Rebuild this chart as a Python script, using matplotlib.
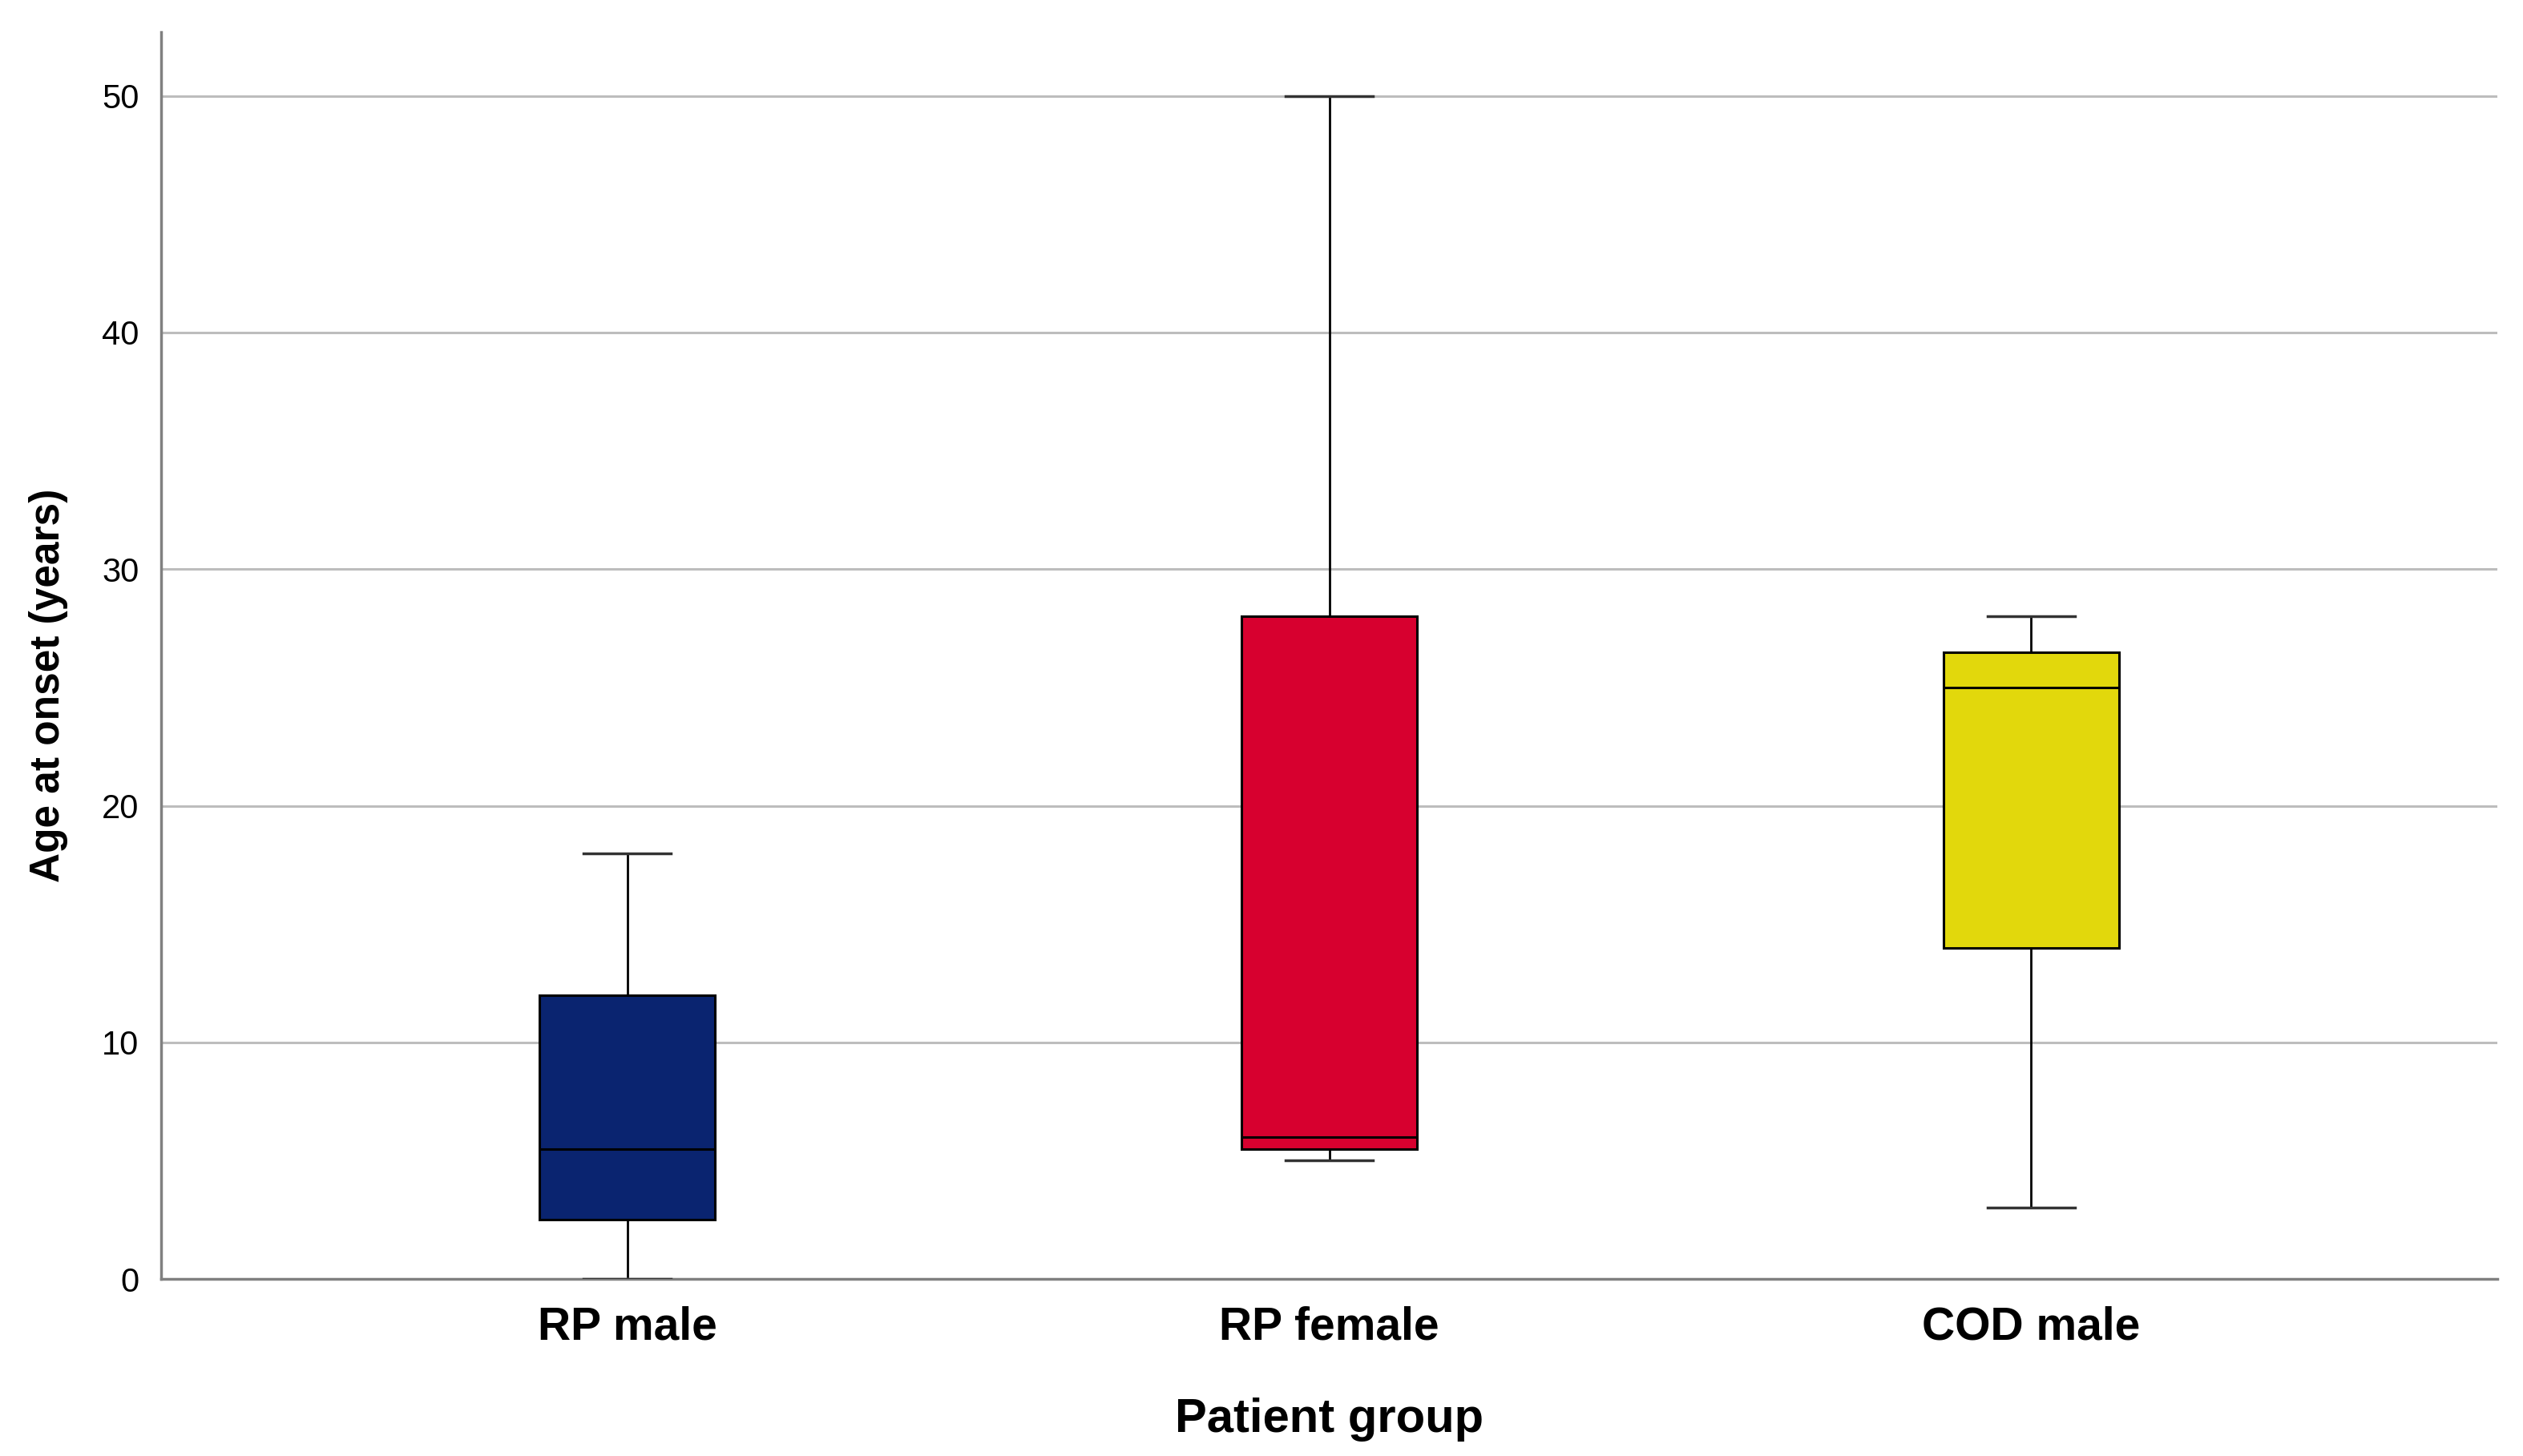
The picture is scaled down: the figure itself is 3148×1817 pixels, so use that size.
import matplotlib
matplotlib.use('Agg')
import matplotlib.pyplot as plt

groups = ['RP male', 'RP female', 'COD male']
whislo = [0, 5, 3]
q1 = [2.5, 5.5, 14]
med = [5.5, 6, 25]
q3 = [12, 28, 26.5]
whishi = [18, 50, 28]
colors = ['#0a2470', '#d7002f', '#e2d80c']
yticks = [0, 10, 20, 30, 40, 50]

fig = plt.figure(figsize=(31.48, 18.17), dpi=100)
ax = fig.add_axes([0.0639, 0.1216, 0.9259, 0.8564])

stats = []
for i, g in enumerate(groups):
    stats.append({'label': g, 'whislo': whislo[i], 'q1': q1[i], 'med': med[i],
                  'q3': q3[i], 'whishi': whishi[i], 'fliers': []})

bp = ax.bxp(stats, positions=[1, 2, 3], widths=0.25, patch_artist=True,
            showfliers=False, capwidths=0.125,
            boxprops=dict(edgecolor='black', linewidth=2.2),
            medianprops=dict(color='black', linewidth=2.2),
            whiskerprops=dict(color='black', linewidth=2),
            capprops=dict(color='#333333', linewidth=2.5, zorder=3))
for patch, c in zip(bp['boxes'], colors):
    patch.set_facecolor(c)

ax.set_xlim(0.336, 3.664)
ax.set_ylim(0, 52.7)
ax.set_yticks(yticks)
ax.yaxis.grid(True, color='#bdbdbd', linewidth=2.2)
ax.set_axisbelow(True)

for s in ['top', 'right']:
    ax.spines[s].set_visible(False)
for s in ['left', 'bottom']:
    ax.spines[s].set_color('#808080')
    ax.spines[s].set_linewidth(2.5)

ax.tick_params(axis='both', length=0)
ax.tick_params(axis='y', pad=20)
ax.tick_params(axis='x', pad=24)
for lab in ax.get_yticklabels():
    lab.set_family(['Liberation Sans', 'DejaVu Sans'])
    lab.set_fontsize(30)
for lab in ax.get_xticklabels():
    lab.set_family(['Liberation Sans', 'DejaVu Sans'])
    lab.set_fontsize(41)
    lab.set_fontweight('bold')

ax.set_xlabel('Patient group', fontsize=43, fontweight='bold',
              family=['Liberation Sans', 'DejaVu Sans'], labelpad=44)
ax.set_ylabel('Age at onset (years)', fontsize=37, fontweight='bold',
              family=['Liberation Sans', 'DejaVu Sans'], labelpad=30)
ax.yaxis.label.set_y(0.476)

fig.savefig('out.png', dpi=100, facecolor='white')
